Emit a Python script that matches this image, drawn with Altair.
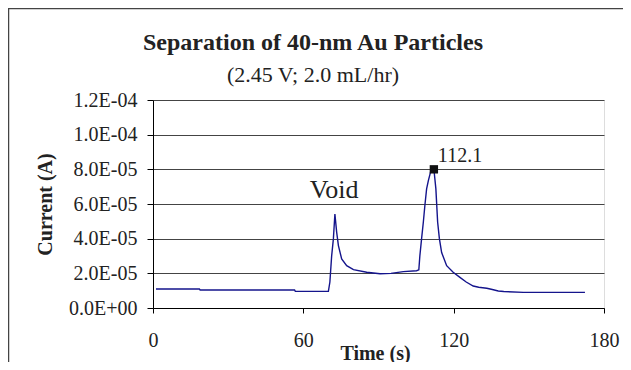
import altair as alt
import pandas as pd

# ---- data ----
time_s = [1.2, 18.5, 18.8, 56.5, 56.8, 70.0, 70.6, 71.3, 72.0, 72.6, 73.3, 74.0,
          75.3, 77.3, 80.0, 85.3, 90.6, 95.0, 99.9, 105.2, 106.1, 106.5, 107.2,
          107.9, 108.5, 109.2, 109.9, 110.8, 111.6, 112.1, 112.3, 112.9, 113.6,
          114.3, 115.2, 117.2, 119.8, 122.5, 125.0, 127.8, 130.0, 133.2, 135.0,
          137.8, 140.0, 147.8, 160.0, 172.4]
current_a = [1.10e-5, 1.10e-5, 1.04e-5, 1.04e-5, 0.96e-5, 0.96e-5, 1.50e-5,
             3.00e-5, 4.00e-5, 5.42e-5, 4.38e-5, 3.60e-5, 2.83e-5, 2.44e-5,
             2.21e-5, 2.06e-5, 1.98e-5, 2.00e-5, 2.10e-5, 2.15e-5, 2.20e-5,
             3.00e-5, 4.00e-5, 4.96e-5, 5.90e-5, 6.87e-5, 7.35e-5, 7.85e-5,
             7.95e-5, 8.00e-5, 7.73e-5, 6.87e-5, 4.96e-5, 4.00e-5, 3.20e-5,
             2.44e-5, 2.06e-5, 1.77e-5, 1.50e-5, 1.27e-5, 1.20e-5, 1.14e-5,
             1.08e-5, 0.98e-5, 0.95e-5, 0.90e-5, 0.90e-5, 0.90e-5]

peak_time = [112.1]
peak_current = [8.0e-5]
peak_label = ["112.1"]

void_time = [62.6]
void_current = [6.35e-5]
void_label = ["Void"]

x_ticks = [0, 60, 120, 180]
y_ticks = [0, 2e-5, 4e-5, 6e-5, 8e-5, 1e-4, 1.2e-4]
y_tick_labels = ["0.0E+00", "2.0E-05", "4.0E-05", "6.0E-05", "8.0E-05",
                 "1.0E-04", "1.2E-04"]

title_text = "Separation of 40-nm Au Particles"
subtitle_text = "(2.45 V; 2.0 mL/hr)"

FONT = "Liberation Serif"
W, H = 451, 208
PAD_L, PAD_T = 145, 92
TOTAL_W, TOTAL_H = 615, 354

df = pd.DataFrame({"t": time_s, "i": current_a})
peak_df = pd.DataFrame({"t": peak_time, "i": peak_current, "lab": peak_label})
void_df = pd.DataFrame({"t": void_time, "i": void_current, "lab": void_label})
title_df = pd.DataFrame({"title": [title_text], "sub": [subtitle_text]})

vals_js = "[" + ",".join(repr(v) for v in y_ticks) + "]"
labs_js = "[" + ",".join("'" + s + "'" for s in y_tick_labels) + "]"
label_expr = f"{labs_js}[indexof({vals_js}, datum.value)]"

x_scale = alt.Scale(domain=[0, 180], nice=False, zero=False)
y_scale = alt.Scale(domain=[0, 1.2e-4], nice=False)

x_axis = alt.Axis(values=x_ticks, tickCount=len(x_ticks) + 2, title="Time (s)",
                  grid=False, tickSize=5, labelPadding=17, labelFontSize=20,
                  labelFont=FONT, labelColor="#222", labelOverlap=False,
                  labelFlush=False,
                  titleFont=FONT, titleFontSize=20,
                  titleFontWeight="bold", titleColor="#222",
                  titleX=222, titleY=51, titleBaseline="alphabetic",
                  titleAlign="center", domainColor="#000", tickColor="#000")
y_axis = alt.Axis(values=y_ticks, tickCount=len(y_ticks) + 2,
                  labelExpr=label_expr, title="Current (A)",
                  grid=True, gridColor="#444", gridWidth=1,
                  tickSize=6, labelPadding=10, labelFontSize=20, labelFont=FONT,
                  labelColor="#222", labelOverlap=False, labelFlush=False,
                  titleFont=FONT, titleFontSize=20,
                  titleFontWeight="bold", titleColor="#222",
                  titleAngle=270, titleX=-108, titleY=H / 2,
                  titleBaseline="middle", titleAlign="center",
                  domainColor="#000", tickColor="#000")

frame = alt.Chart(pd.DataFrame({"a": [0]})).mark_rect(
    fill=None, stroke="#444", strokeWidth=1.5
).encode(
    x=alt.value(-144.5), x2=alt.value(TOTAL_W - PAD_L + 40),
    y=alt.value(-91.5), y2=alt.value(TOTAL_H - PAD_T + 40)
)

title_mark = alt.Chart(title_df).mark_text(
    align="center", baseline="alphabetic", font=FONT, fontSize=24,
    fontWeight="bold", color="#222"
).encode(x=alt.value(160), y=alt.value(-50), text="title:N")

subtitle_mark = alt.Chart(title_df).mark_text(
    align="center", baseline="alphabetic", font=FONT, fontSize=22,
    color="#222"
).encode(x=alt.value(160), y=alt.value(-18), text="sub:N")

line = alt.Chart(df).mark_line(color="#14148c", strokeWidth=1.4).encode(
    x=alt.X("t:Q", scale=x_scale, axis=x_axis),
    y=alt.Y("i:Q", scale=y_scale, axis=y_axis),
)

peak_pt = alt.Chart(peak_df).mark_point(
    shape="square", filled=True, color="#111", size=70, opacity=1
).encode(x=alt.X("t:Q", scale=x_scale), y=alt.Y("i:Q", scale=y_scale))

peak_txt = alt.Chart(peak_df).mark_text(
    align="left", baseline="alphabetic", dx=4, dy=-7, font=FONT,
    fontSize=20, color="#222"
).encode(x=alt.X("t:Q", scale=x_scale), y=alt.Y("i:Q", scale=y_scale),
         text="lab:N")

void_txt = alt.Chart(void_df).mark_text(
    align="left", baseline="alphabetic", font=FONT, fontSize=26, color="#222"
).encode(x=alt.X("t:Q", scale=x_scale), y=alt.Y("i:Q", scale=y_scale),
         text="lab:N")

chart = alt.layer(line, peak_pt, peak_txt, void_txt, title_mark, subtitle_mark,
                  frame).properties(
    width=W, height=H,
    autosize=alt.AutoSizeParams(type="none"),
    padding={"left": PAD_L, "top": PAD_T,
             "right": TOTAL_W - PAD_L - W, "bottom": TOTAL_H - PAD_T - H},
).configure_view(stroke="#999", strokeWidth=1).configure(background="white")

chart.save("out.html", embed_options={"renderer": "svg", "actions": False})
